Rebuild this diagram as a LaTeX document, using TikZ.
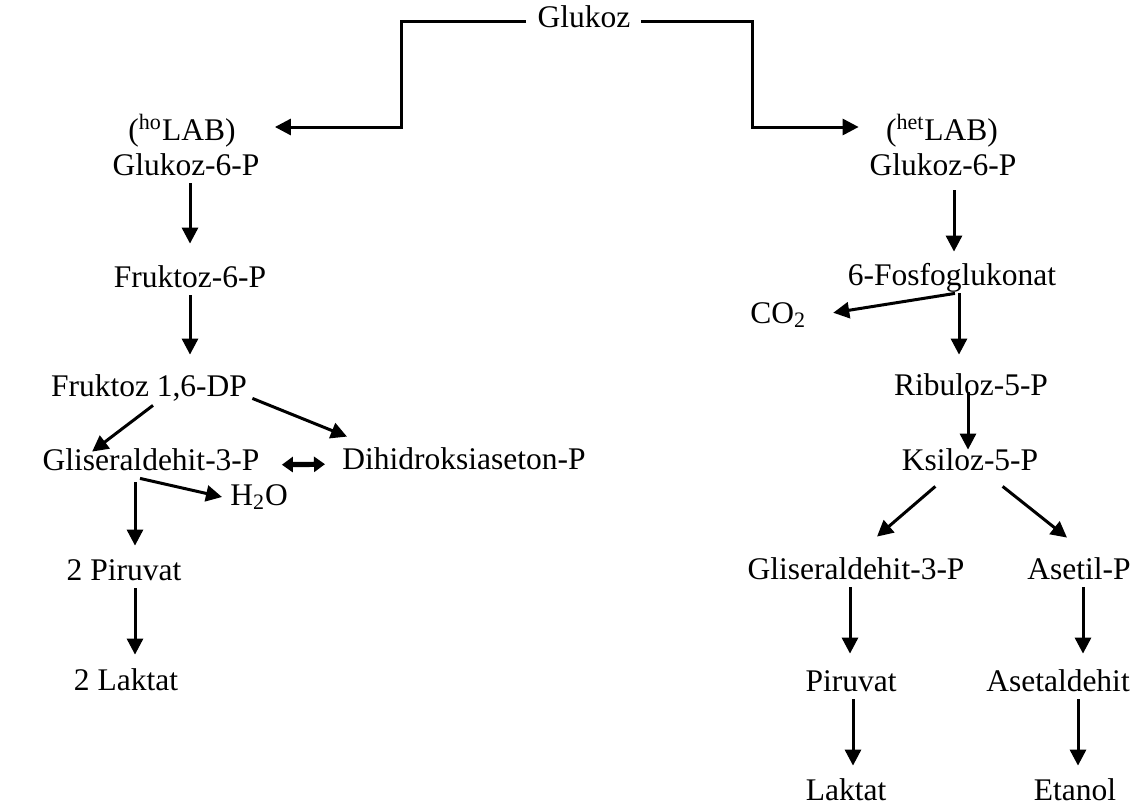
\documentclass[tikz,border=0pt]{standalone}
\usepackage{fontspec}
\setmainfont{Liberation Serif}
\usepackage{tikz}
\usetikzlibrary{arrows.meta,calc}

\begin{document}
\begin{tikzpicture}[x=0.5pt,y=-0.5pt,
	lbl/.style={inner sep=0pt, anchor=base, text height=10pt, text depth=4pt, font=\fontsize{15.75}{18}\selectfont},
	arr/.style={line width=1.5pt, -{Triangle[length=8pt,width=8pt]}},
	dbl/.style={line width=2.6pt, {Triangle[length=5.5pt,width=7.5pt]}-{Triangle[length=5.5pt,width=7.5pt]}}]
	\useasboundingbox (0,0) rectangle (1142,809);
	% start
	\node[lbl] (glc) at (584,27) {Glukoz};
	% homofermentative side
	\node[lbl] (lab1) at (182,140) {(\textsuperscript{ho}LAB)};
	\node[lbl] (g6pL) at (186,175) {Glukoz-6-P};
	\node[lbl] (f6p) at (190,287) {Fruktoz-6-P};
	\node[lbl] (fdp) at (149,396) {Fruktoz 1,6-DP};
	\node[lbl] (gapL) at (151,470) {Gliseraldehit-3-P};
	\node[lbl] (dhap) at (464,469) {Dihidroksiaseton-P};
	\node[lbl, anchor=base west] (h2o) at (230,505) {H\textsubscript{2}O};
	\node[lbl] (pyrL) at (124,580) {2 Piruvat};
	\node[lbl] (lacL) at (126,690) {2 Laktat};
	% heterofermentative side
	\node[lbl] (lab2) at (942,140) {(\textsuperscript{het}LAB)};
	\node[lbl] (g6pR) at (943,175) {Glukoz-6-P};
	\node[lbl] (pg6) at (952,285) {6-Fosfoglukonat};
	\node[lbl, anchor=base west] (co2) at (750,323) {CO\textsubscript{2}};
	\node[lbl] (ru5p) at (971,395) {Ribuloz-5-P};
	\node[lbl] (xu5p) at (970,470) {Ksiloz-5-P};
	\node[lbl] (gapR) at (856,579) {Gliseraldehit-3-P};
	\node[lbl] (acp) at (1079,579) {Asetil-P};
	\node[lbl] (pyrR) at (851,691) {Piruvat};
	\node[lbl] (ald) at (1058,691) {Asetaldehit};
	\node[lbl] (lacR) at (846,800) {Laktat};
	\node[lbl] (eth) at (1075,800) {Etanol};

	\coordinate (jl) at (401,74);
	\coordinate (jr) at (752,74);
	\draw[arr, shorten <=5.5pt, shorten >=19.5pt] (glc.west) -| (jl) |- ([yshift=3.5pt]lab1.east);
	\draw[arr, shorten <=5pt, shorten >=13.5pt] (glc.east) -| (jr) |- ([yshift=3.5pt]lab2.west);

	\draw[arr, shorten >=11.5pt] (f6p.north |- g6pL.south) -- (f6p.north);
	\draw[arr, shorten >=10.5pt] (f6p.south) -- (f6p.south |- fdp.north);
	\draw[arr] ($(fdp.south)+(4,1)$) -- ($(gapL.north west)+(50,2)$);
	\draw[arr] ($(fdp.south east)+(5,-6)$) -- ($(dhap.north west)+(5,-12)$);
	\draw[dbl, shorten <=11pt, shorten >=8.5pt] ([yshift=-0.5pt]gapL.east) -- ([yshift=-0.5pt]dhap.west);
	\draw[arr] ($(gapL.south)+(-11,0)$) -- ($(h2o.west)+(-8,-2)$);
	\draw[arr, shorten <=2pt, shorten >=7pt] ([xshift=5.5pt]pyrL.north |- gapL.south) -- ([xshift=5.5pt]pyrL.north);
	\draw[arr, shorten >=7.5pt] ([xshift=5.5pt]pyrL.south) -- ([xshift=5.5pt]pyrL.south |- lacL.north);

	\draw[arr, shorten <=3.5pt, shorten >=6.5pt] ([xshift=1pt]pg6.north |- g6pR.south) -- ([xshift=1pt]pg6.north);
	\draw[arr, shorten >=13.5pt] ([xshift=1.5pt]pg6.south) -- (co2.east);
	\draw[arr, shorten >=10pt] ([xshift=3.5pt]pg6.south) -- ([xshift=3.5pt]pg6.south |- ru5p.north);
	\draw[arr, shorten <=-1.5pt] ([xshift=-1pt]xu5p.north |- ru5p.base) -- ([xshift=-1pt]xu5p.north);
	\draw[arr] ($(xu5p.south west)+(34,8)$) -- ($(gapR.north)+(21,-22)$);
	\draw[arr] ($(xu5p.south east)+(-36,8)$) -- ($(acp.north)+(-12,-21)$);
	\draw[arr, shorten >=8.5pt] ([xshift=-0.5pt]pyrR.north |- gapR.south) -- ([xshift=-0.5pt]pyrR.north);
	\draw[arr, shorten >=7pt] ([xshift=1pt]pyrR.south) -- ([xshift=1pt]pyrR.south |- lacR.north);
	\draw[arr, shorten >=8.5pt] ([xshift=2pt]acp.south) -- ([xshift=2pt]acp.south |- ald.north);
	\draw[arr, shorten >=7pt] ([xshift=1.5pt]eth.north |- ald.south) -- ([xshift=1.5pt]eth.north);
\end{tikzpicture}
\end{document}
